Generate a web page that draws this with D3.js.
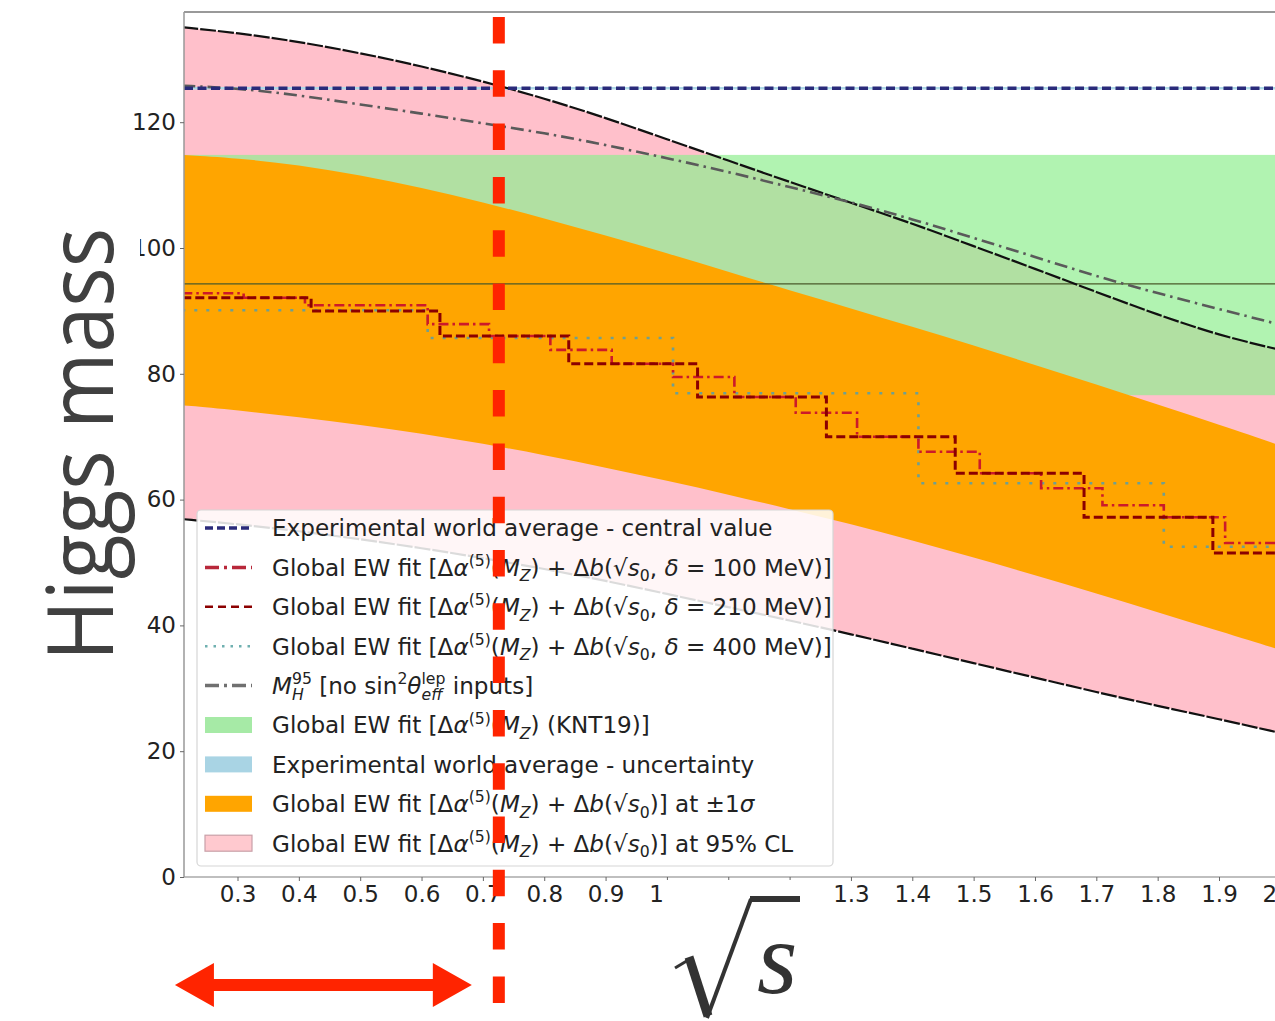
<!DOCTYPE html>
<html><head><meta charset="utf-8">
<script src="https://cdn.jsdelivr.net/npm/d3@7"></script>
<style>html,body{margin:0;padding:0;background:#fff;}svg{display:block;}</style>
</head><body>
<svg id="chart" width="1275" height="1021"></svg>
<script>
// ---------- data ----------
const xTicks = [0.3,0.4,0.5,0.6,0.7,0.8,0.9,1.0,1.1,1.2,1.3,1.4,1.5,1.6,1.7,1.8,1.9,2.0];
const yTicks = [0,20,40,60,80,100,120];
const xGrid = [0.21,0.3,0.4,0.5,0.6,0.7,0.8,0.9,1.0,1.1,1.2,1.3,1.4,1.5,1.6,1.7,1.8,1.9,2.0];
const upper95 = [135.1,134.2,132.8,131.0,128.9,126.5,123.8,120.7,117.3,113.9,110.5,107.2,103.9,100.3,96.7,93.0,89.4,86.1,83.8];
const lower95 = [56.9,56.1,55.0,53.7,52.3,50.7,49.0,47.1,45.0,42.9,40.8,38.6,36.3,34.0,31.7,29.4,27.2,25.1,22.9];
const sigmaUpper = [114.8,114.3,113.2,111.6,109.6,107.3,104.7,102.0,99.2,96.2,93.3,90.4,87.5,84.5,81.4,78.3,75.1,71.9,68.6];
const sigmaLower = [75.0,74.2,73.1,71.9,70.5,68.9,67.1,65.1,63.0,60.8,58.5,56.1,53.5,50.8,48.0,45.1,42.1,39.1,36.1];
const mh95 = [125.8,125.4,124.3,122.8,121.4,119.8,118.3,116.4,114.3,112.1,109.7,107.3,104.6,101.6,98.6,95.5,92.8,90.3,87.8];
const knt19Band = [76.6, 114.8];
const worldAvg = 125.4;
const worldAvgBand = [125.2, 125.6];
const refLine = 94.3;
const step100Edges = [0.21,0.31,0.41,0.51,0.61,0.71,0.81,0.91,1.01,1.11,1.21,1.31,1.41,1.51,1.61,1.71,1.81,1.91,2.02];
const step100Values = [92.8,92.1,90.9,90.9,87.9,86.0,83.8,81.6,79.5,76.3,73.8,70.0,67.6,64.2,61.8,59.1,57.2,53.1];
const step210Edges = [0.21,0.42,0.63,0.84,1.05,1.26,1.47,1.68,1.89,2.10];
const step210Values = [92.1,90.0,86.0,81.6,76.3,70.0,64.2,57.2,51.5];
const step400Edges = [0.21,0.61,1.01,1.41,1.81,2.21];
const step400Values = [90.1,85.7,76.9,62.6,52.5];
const markerX = 0.726;
const arrowSpan = [0.198, 0.682];
const legendLabels = [
  [{t:"Experimental world average - central value"}],
  [{t:"Global EW fit [Δ"},{t:"α",it:1},{t:"(5)",sup:1},{t:"("},{t:"M",it:1},{t:"Z",sub:1,it:1},{t:") + Δ"},{t:"b",it:1},{t:"(√"},{t:"s",it:1},{t:"0",sub:1},{t:", "},{t:"δ",it:1},{t:" = 100 MeV)]"}],
  [{t:"Global EW fit [Δ"},{t:"α",it:1},{t:"(5)",sup:1},{t:"("},{t:"M",it:1},{t:"Z",sub:1,it:1},{t:") + Δ"},{t:"b",it:1},{t:"(√"},{t:"s",it:1},{t:"0",sub:1},{t:", "},{t:"δ",it:1},{t:" = 210 MeV)]"}],
  [{t:"Global EW fit [Δ"},{t:"α",it:1},{t:"(5)",sup:1},{t:"("},{t:"M",it:1},{t:"Z",sub:1,it:1},{t:") + Δ"},{t:"b",it:1},{t:"(√"},{t:"s",it:1},{t:"0",sub:1},{t:", "},{t:"δ",it:1},{t:" = 400 MeV)]"}],
  [{t:"M",it:1},{t:"H",sub:1,it:1},{t:"95",sup:1,back:1},{t:" [no sin"},{t:"2",sup:1},{t:"θ",it:1},{t:"eff",sub:1,it:1},{t:"lep",sup:1,back:1},{t:" inputs]"}],
  [{t:"Global EW fit [Δ"},{t:"α",it:1},{t:"(5)",sup:1},{t:"("},{t:"M",it:1},{t:"Z",sub:1,it:1},{t:") (KNT19)]"}],
  [{t:"Experimental world average - uncertainty"}],
  [{t:"Global EW fit [Δ"},{t:"α",it:1},{t:"(5)",sup:1},{t:"("},{t:"M",it:1},{t:"Z",sub:1,it:1},{t:") + Δ"},{t:"b",it:1},{t:"(√"},{t:"s",it:1},{t:"0",sub:1},{t:")] at ±1"},{t:"σ",it:1}],
  [{t:"Global EW fit [Δ"},{t:"α",it:1},{t:"(5)",sup:1},{t:"("},{t:"M",it:1},{t:"Z",sub:1,it:1},{t:") + Δ"},{t:"b",it:1},{t:"(√"},{t:"s",it:1},{t:"0",sub:1},{t:")] at 95% CL"}]
];

// ---------- styles ----------
const C = {
  pink:"#ffc0cb", green:"#90ee90", orange:"#ffa500", blue:"#add8e6",
  navy:"#2a2a7a", red:"#cc1a2a", darkred:"#8b0000", teal:"#5f9ea0", gray:"#5a5a5a", black:"#111"
};
const svg = d3.select("#chart");
const L = 184, T = 12, B = 877, R = 1290;
const x = d3.scaleLinear().domain([0.3,1.9]).range([237.5,1219]);
const y = d3.scaleLinear().domain([0,120]).range([877,122.2]);

svg.append("defs").append("clipPath").attr("id","clip")
  .append("rect").attr("x",L).attr("y",T).attr("width",R-L).attr("height",B-T);
const g = svg.append("g").attr("clip-path","url(#clip)");

const pts = (arr) => xGrid.map((d,i)=>[d,arr[i]]);
const band = (lo,hi) => xGrid.map((d,i)=>({x:d,lo:lo[i],hi:hi[i]}));
const area = d3.area().x(d=>x(d.x)).y0(d=>y(d.lo)).y1(d=>y(d.hi)).curve(d3.curveBasis);
const line = d3.line().x(d=>x(d[0])).y(d=>y(d[1])).curve(d3.curveBasis);
const stepLine = d3.line().x(d=>x(d[0])).y(d=>y(d[1])).curve(d3.curveStepAfter);
const stepPts = (edges, vals) => { const p = vals.map((v,i)=>[edges[i],v]); p.push([edges[edges.length-1], vals[vals.length-1]]); return p; };

// 95% CL band
g.append("path").attr("d", area(band(lower95, upper95))).attr("fill", C.pink);
// KNT19 band
g.append("rect").attr("x",L).attr("width",R-L)
  .attr("y", y(knt19Band[1])).attr("height", y(knt19Band[0])-y(knt19Band[1]))
  .attr("fill", C.green).attr("fill-opacity",0.7);
// world average uncertainty
g.append("rect").attr("x",L).attr("width",R-L)
  .attr("y", y(worldAvgBand[1])).attr("height", y(worldAvgBand[0])-y(worldAvgBand[1]))
  .attr("fill", C.blue);
// 1 sigma band
g.append("path").attr("d", area(band(sigmaLower, sigmaUpper))).attr("fill", C.orange);
// thin reference line
g.append("line").attr("x1",L).attr("x2",R).attr("y1",y(refLine)).attr("y2",y(refLine))
  .attr("stroke","#4b5a2a").attr("stroke-width",1.2);

// step lines
g.append("path").attr("d", stepLine(stepPts(step400Edges, step400Values)))
  .attr("fill","none").attr("stroke", C.teal).attr("stroke-width",2.6).attr("stroke-dasharray","3,9").attr("stroke-opacity",0.9);
g.append("path").attr("d", stepLine(stepPts(step100Edges, step100Values)))
  .attr("fill","none").attr("stroke", C.red).attr("stroke-width",2.6).attr("stroke-dasharray","10,4,2.5,4");
g.append("path").attr("d", stepLine(stepPts(step210Edges, step210Values)))
  .attr("fill","none").attr("stroke", C.darkred).attr("stroke-width",3).attr("stroke-dasharray","9,4");

// 95% boundaries
[upper95, lower95].forEach(arr => g.append("path").attr("d", line(pts(arr)))
  .attr("fill","none").attr("stroke", C.black).attr("stroke-width",2.2).attr("stroke-dasharray","16,2"));
// M_H^95
g.append("path").attr("d", line(pts(mh95))).attr("fill","none")
  .attr("stroke", C.gray).attr("stroke-width",2.6).attr("stroke-dasharray","13,5,2.5,5");
// world average
g.append("line").attr("x1",L).attr("x2",R).attr("y1",y(worldAvg)).attr("y2",y(worldAvg))
  .attr("stroke", C.navy).attr("stroke-width",3.5).attr("stroke-dasharray","9,4.5");

// spines
svg.append("line").attr("x1",L).attr("x2",R).attr("y1",T).attr("y2",T).attr("stroke","#999").attr("stroke-width",2);
svg.append("line").attr("x1",L).attr("x2",R).attr("y1",B).attr("y2",B).attr("stroke","#aaa").attr("stroke-width",1.5);
svg.append("line").attr("x1",L).attr("x2",L).attr("y1",T).attr("y2",B).attr("stroke","#999").attr("stroke-width",1.5);

// axes
const yAxis = svg.append("g").attr("transform",`translate(${L},0)`)
  .call(d3.axisLeft(y).tickValues(yTicks).tickSize(4).tickPadding(4));
const xAxis = svg.append("g").attr("transform",`translate(0,${B})`)
  .call(d3.axisBottom(x).tickValues(xTicks).tickFormat(d3.format(".1f")).tickSize(4).tickPadding(5));
[yAxis,xAxis].forEach(a=>{
  a.select(".domain").remove();
  a.selectAll(".tick line").attr("stroke","#666");
  a.selectAll(".tick text").attr("fill","#222").attr("font-family","DejaVu Sans").attr("font-size",23);
});

// legend
const legX = 197, legY = 510, legW = 636, legH = 356;
const leg = svg.append("g");
leg.append("rect").attr("x",legX).attr("y",legY).attr("width",legW).attr("height",legH)
  .attr("rx",4).attr("fill","#fff").attr("fill-opacity",0.85).attr("stroke","#d6d6d6").attr("stroke-width",1.2);
const handles = [
  {type:"line", c:C.navy, w:3.5, dash:"8,4"},
  {type:"line", c:"#b8283a", w:3.5, dash:"14,5,3,5"},
  {type:"line", c:C.darkred, w:2.5, dash:"8,5"},
  {type:"line", c:"#6fb0b0", w:2.5, dash:"2.5,6"},
  {type:"line", c:"#707070", w:3.5, dash:"14,5,3,5"},
  {type:"patch", c:"#a6eaa6"},
  {type:"patch", c:"#a9d4e4"},
  {type:"patch", c:C.orange},
  {type:"patch", c:"#ffc9cf", s:"#c9a0a8"}
];
const rowY = i => 528 + i*39.4;
const hx0 = 205, hx1 = 252, tx = 272;
let fs = 22;
function rich(sel, segs, size) {
  let shift = 0, prev = null;
  segs.forEach(s => {
    let target = 0, sz = size;
    if (s.sup) { target = -0.42*size; sz = 0.68*size; }
    if (s.sub) { target = 0.25*size; sz = 0.68*size; }
    const ts = sel.append("tspan").text(s.t).attr("font-size", sz).attr("dy", target - shift);
    if (s.it) ts.attr("font-style","italic");
    if (s.back && prev) ts.attr("dx", -prev.node().getComputedTextLength());
    shift = target; prev = ts;
  });
}
const probe = leg.append("text").attr("font-family","DejaVu Sans").attr("font-size",fs).text("Experimental world average - central value");
fs = fs * 501 / probe.node().getComputedTextLength();
probe.remove();
legendLabels.forEach((segs,i)=>{
  const yy = rowY(i), h = handles[i];
  if (h.type === "line") {
    leg.append("line").attr("x1",hx0).attr("x2",hx1).attr("y1",yy).attr("y2",yy)
      .attr("stroke",h.c).attr("stroke-width",h.w).attr("stroke-dasharray",h.dash);
  } else {
    leg.append("rect").attr("x",hx0).attr("y",yy-8).attr("width",hx1-hx0).attr("height",16)
      .attr("fill",h.c).attr("stroke",h.s||"none").attr("stroke-width",1.2);
  }
  const t = leg.append("text").attr("x",tx).attr("y",yy + 0.36*fs)
    .attr("font-family","DejaVu Sans").attr("fill","#222").attr("font-size",fs);
  rich(t, segs, fs);
});

// cover box of the sqrt(s) label over tick labels
svg.append("rect").attr("x",664).attr("y",880).attr("width",144).attr("height",141).attr("fill","#fff");
// cover box of the y title
svg.append("rect").attr("x",0).attr("y",200).attr("width",140).attr("height",480).attr("fill","#fff");

// y title
svg.append("text").attr("transform","translate(113,444.5) rotate(-90)")
  .attr("text-anchor","middle").attr("font-family","Open Sans").attr("font-size",92)
  .attr("fill","#404040").attr("textLength",433).attr("lengthAdjust","spacingAndGlyphs")
  .text("Higgs mass");

// sqrt(s) label
const rad = svg.append("g").attr("stroke","#333").attr("fill","none").attr("stroke-linecap","butt");
rad.append("path").attr("d","M675,968 L690,959").attr("stroke-width",3);
rad.append("path").attr("d","M689,957 L708,1016").attr("stroke-width",9);
rad.append("path").attr("d","M707,1018 L751,899").attr("stroke-width",4);
rad.append("path").attr("d","M750,899 L800,899").attr("stroke-width",6);
svg.append("text").attr("x",757).attr("y",993).attr("font-family","Liberation Serif")
  .attr("font-style","italic").attr("font-size",104).attr("fill","#333").text("s");

// red annotation: vertical dashed marker and double arrow
svg.append("line").attr("x1",x(markerX)).attr("x2",x(markerX)).attr("y1",17).attr("y2",1004)
  .attr("stroke","#ff2400").attr("stroke-width",12).attr("stroke-dasharray","26.5,26.8");
const ax0 = x(arrowSpan[0]), ax1 = x(arrowSpan[1]), ay = 985, hl = 39, hh = 22, st = 6;
svg.append("path").attr("fill","#ff2400").attr("d",
  `M${ax0},${ay} L${ax0+hl},${ay-hh} L${ax0+hl},${ay-st} L${ax1-hl},${ay-st} L${ax1-hl},${ay-hh} L${ax1},${ay} L${ax1-hl},${ay+hh} L${ax1-hl},${ay+st} L${ax0+hl},${ay+st} L${ax0+hl},${ay+hh} Z`);
</script>
</body></html>
